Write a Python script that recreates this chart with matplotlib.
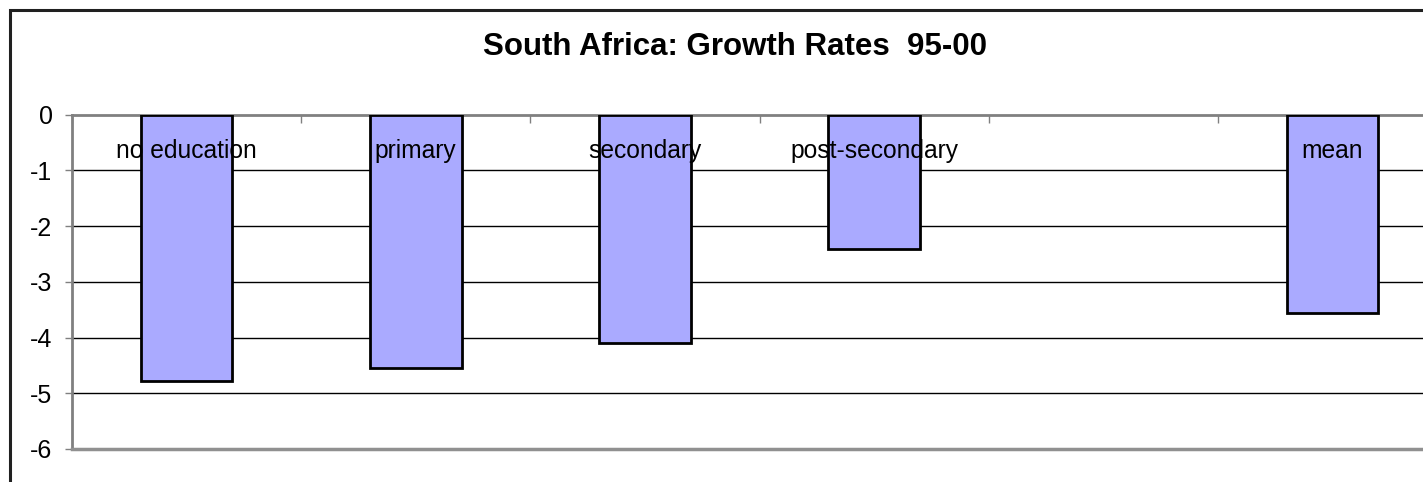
import matplotlib
matplotlib.use("Agg")
import matplotlib.pyplot as plt
from matplotlib.patches import Rectangle

categories = ["no education", "primary", "secondary", "post-secondary", "", "mean"]
values = [-4.78, -4.55, -4.09, -2.41, None, -3.56]
yticks = [0, -1, -2, -3, -4, -5, -6]

plt.rcParams['font.family'] = ['Liberation Sans', 'DejaVu Sans']

W, H = 1423, 482
fig = plt.figure(figsize=(W / 100, H / 100), dpi=100)

# outer chart frame (cropped at right and bottom)
fig.patches.append(Rectangle((10 / W, -0.1), 1.2, (H - 10) / H + 0.1,
                             transform=fig.transFigure, fill=False,
                             edgecolor='#202020', linewidth=2.2, zorder=0))

left = 72 / W
right = 1447 / W
bottom = (H - 449) / H
top = (H - 114.5) / H
ax = fig.add_axes([left, bottom, right - left, top - bottom])

xs = list(range(len(categories)))
for x, v in zip(xs, values):
    if v is None:
        continue
    ax.bar(x, v, width=0.40, color='#aaaaff', edgecolor='black',
           linewidth=2, zorder=3)

for x, c in zip(xs, categories):
    if c:
        ax.text(x, -0.66, c, ha='center', va='center', fontsize=17.7,
                color='black', zorder=4)

ax.set_xlim(-0.5, len(categories) - 0.5)
ax.set_ylim(-6, 0)
ax.set_yticks(yticks)
ax.set_yticklabels([str(t) for t in yticks], fontsize=18)
ax.tick_params(axis='y', length=5, width=1, color='#808080', pad=9)

ax.set_xticks([])
ax.set_xticks([i + 0.5 for i in range(-1, len(categories))], minor=True)
ax.xaxis.set_ticks_position('top')
ax.tick_params(axis='x', which='minor', direction='in', length=6, width=1,
               color='#808080', top=True, bottom=False,
               labeltop=False, labelbottom=False)

for y in yticks[1:-1]:
    ax.axhline(y, color='black', linewidth=1, zorder=1)

ax.spines['right'].set_visible(False)
ax.spines['left'].set_color('#808080')
ax.spines['left'].set_linewidth(2)
ax.spines['top'].set_color('#808080')
ax.spines['top'].set_linewidth(2)
ax.spines['bottom'].set_color('#909090')
ax.spines['bottom'].set_linewidth(2.5)

fig.text(735 / W, 1 - 47 / H, "South Africa: Growth Rates  95-00",
         ha='center', va='center', fontsize=22.5, fontweight='bold')

fig.savefig("out.png", dpi=100)
